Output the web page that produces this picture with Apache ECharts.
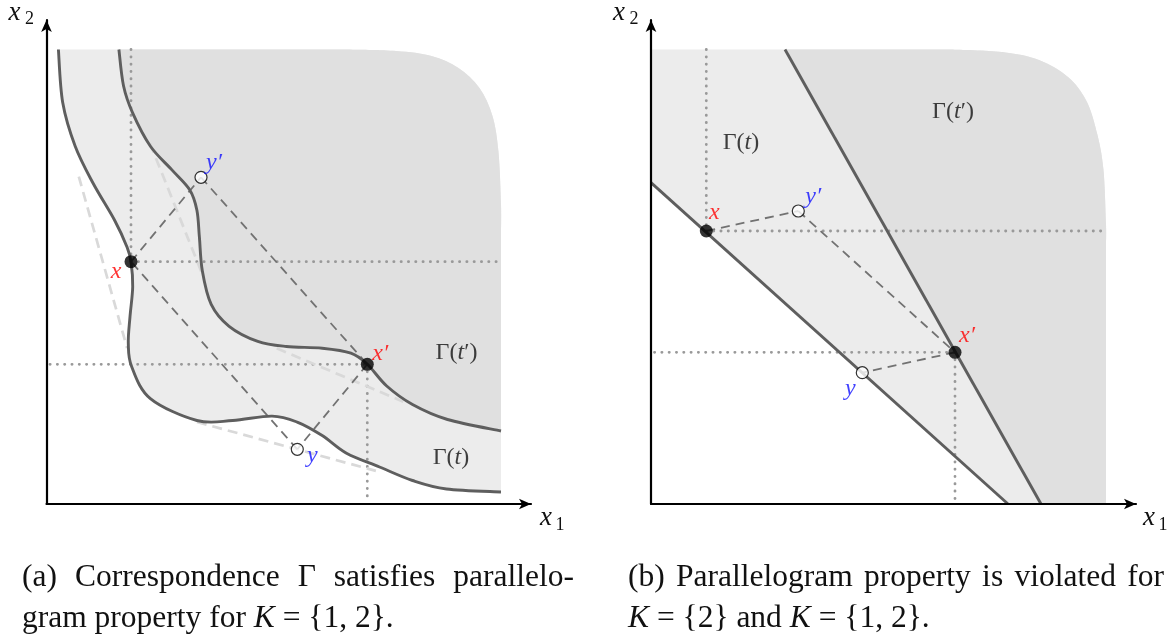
<!DOCTYPE html>
<html><head><meta charset="utf-8">
<script src="https://cdn.jsdelivr.net/npm/echarts@6/dist/echarts.min.js"></script>
<style>html,body{margin:0;padding:0;background:#fff}#c{width:1173px;height:641px}</style>
</head><body><div id="c"></div>
<script>
// ================= DATA (axis units; origin at the axes corner) =================
// ---- panel (a) ----
const axisMaxA = [484.5, 484];
const regionTopA = 454.5, regionRightA = 454.5;
const lowerCurveA = [[11.9,454.5],[16.2,401.4],[28.7,357.7],[46.6,320.7],[68.1,283.7],[80.6,256.8],[84.5,242.3],[86.2,217.3],[83.5,187.3],[81.8,160.7],[85.2,137.3],[103.9,105.4],[150.4,83.5],[186.2,83.5],[225.6,87.9],[250.7,81.9],[275.7,68.4],[300,50.7],[333,37],[366,23.5],[400,15],[454.5,12]];
const upperCurveA = [[72.4,454.5],[77,418.2],[86,391.3],[103.9,357.7],[125.4,334.1],[143.3,314],[150.4,293.8],[152.9,266.8],[155.8,233.2],[164.7,199.6],[182.6,177.7],[211.3,162.6],[239.9,157.5],[275.7,155.8],[304.4,150.8],[320.8,139.7],[340.2,118],[366,99.5],[401,84.5],[454.5,73]];
const cornerA = [[300,454.5],[350,453],[385,448],[412,436],[433,416],[446,388],[452,352],[454.5,300],[454.5,270]];
const ptX_A = [84.5,242.3], ptXp_A = [320.8,139.7], ptY_A = [250.8,54.7], ptYp_A = [154.5,326.7];
const hullA = [[[32.3,327.4],[80.6,155.9]],[[103.5,360.7],[156.8,227.3]],[[230.2,155.7],[356.8,102.3]],[[150.4,82],[329.4,33.1]]];
const gammaPosA = {t:[404.5,46], tp:[410,151]};
// ---- panel (b) ----
const axisMaxB = [485, 484];
const regionTopB = 454.5, regionRightB = 455;
const lowerLineB = [[0,321.3],[357,0]];
const upperLineB = [[134,454.5],[390,0]];
const cornerB = [[300,454.5],[351,452],[388,444],[417,427],[435.5,403],[446.5,369],[452.5,334],[455,280],[455,260]];
const ptX_B = [55.3,273], ptXp_B = [304,151.7], ptY_B = [211.3,131.3], ptYp_B = [147.3,293];
const gammaPosB = {t:[90,361.5], tp:[302,392]};
const dotStart = 3.5;
// ---- captions ----
const capA1 = ['(a)','Correspondence','Γ','satisfies','parallelo-'];
const capB1 = ['(b)','Parallelogram','property','is','violated','for'];

// ================= helpers =================
const SERIF = '"Liberation Serif","Times New Roman",serif';
function segs(px){let d='';for(let i=0;i<px.length-1;i++){const p0=px[i-1]||px[i],p1=px[i],p2=px[i+1],p3=px[i+2]||px[i+1];
 d+=' C'+(p1[0]+(p2[0]-p0[0])/6)+','+(p1[1]+(p2[1]-p0[1])/6)+' '+(p2[0]-(p3[0]-p1[0])/6)+','+(p2[1]-(p3[1]-p1[1])/6)+' '+p2[0]+','+p2[1];}return d;}
const P = p => p[0]+','+p[1];
function custom(grid, z, fn){return {type:'custom',xAxisIndex:grid,yAxisIndex:grid,coordinateSystem:'cartesian2d',z:z,silent:true,data:[[0,0]],renderItem:(params,api)=>({type:'group',children:fn(p=>api.coord(p))})};}
const DOT = {stroke:'#999',lineWidth:2.8,lineDash:[0.2,7.1],lineCap:'round',fill:'none'};
const DASH = {stroke:'#727272',lineWidth:1.8,lineDash:[9,6],fill:'none'};
const HULL = {stroke:'#d9d9d9',lineWidth:2.7,lineDash:[10,6],fill:'none'};
const CURVE = {stroke:'#5e5e5e',lineWidth:2.9,fill:'none',lineJoin:'round'};
const line=(c,a,b,style)=>{const p=c(a),q=c(b);return {type:'line',shape:{x1:p[0],y1:p[1],x2:q[0],y2:q[1]},style:style};};

function axes(idx,max){return [
 {gridIndex:idx,type:'value',min:0,max:max[0],z:10,axisLine:{show:true,symbol:['none','arrow'],symbolSize:[8,12],lineStyle:{color:'#000',width:2.2}},axisTick:{show:false},axisLabel:{show:false},splitLine:{show:false}},
 {gridIndex:idx,type:'value',min:0,max:max[1],z:10,axisLine:{show:true,symbol:['none','arrow'],symbolSize:[8,12],lineStyle:{color:'#000',width:2.2}},axisTick:{show:false},axisLabel:{show:false},splitLine:{show:false}}];}

const RED='#ff0000', BLUE='#1010ff';
function ptLabel(txt,color,off){return {show:true,position:'inside',offset:off,formatter:txt,color:color,fontFamily:SERIF,fontStyle:'italic',fontSize:24};}
function points(grid, pts){return {type:'scatter',xAxisIndex:grid,yAxisIndex:grid,z:6,silent:true,symbol:'circle',
 data:pts.map(o=>({value:o.v,symbolSize:o.filled?13:12,itemStyle:{color:o.filled?'#000':'#fff',borderColor:'#000',borderWidth:o.filled?0:1.2},label:ptLabel(o.t,o.c,o.off)}))};}
const gammaRich={n:{fontFamily:SERIF,fontSize:24,color:'#111'},i:{fontFamily:SERIF,fontStyle:'italic',fontSize:24,color:'#111'}};
function gammaLabels(grid,pos){return {type:'scatter',xAxisIndex:grid,yAxisIndex:grid,z:6,silent:true,symbolSize:0,
 data:[{value:pos.t,label:{show:true,position:'inside',formatter:'{n|Γ(}{i|t}{n|)}',rich:gammaRich}},
       {value:pos.tp,label:{show:true,position:'inside',formatter:'{n|Γ(}{i|t}{n|′)}',rich:gammaRich}}]};}

// ================= series =================
const series = [
 custom(0,1,c=>{const L=lowerCurveA.map(c),U=upperCurveA.map(c),C=cornerA.map(c),Cr=C.slice().reverse();
   return [
    {type:'path',shape:{pathData:'M'+P(L[0])+segs(L)+' L'+P(Cr[0])+segs(Cr)+' Z'},style:{fill:'#ececec'}},
    {type:'path',shape:{pathData:'M'+P(U[0])+segs(U)+' L'+P(Cr[0])+segs(Cr)+' Z'},style:{fill:'#e0e0e0'}}];}),
 custom(0,2,c=>[
   line(c,[ptX_A[0],regionTopA],ptX_A,DOT), line(c,ptX_A,[regionRightA,ptX_A[1]],DOT),
   line(c,[dotStart,ptXp_A[1]],ptXp_A,DOT), line(c,ptXp_A,[ptXp_A[0],dotStart],DOT)]),
 custom(0,3,c=>hullA.map(s=>line(c,s[0],s[1],HULL))),
 custom(0,4,c=>[line(c,ptX_A,ptYp_A,DASH),line(c,ptYp_A,ptXp_A,DASH),line(c,ptXp_A,ptY_A,DASH),line(c,ptY_A,ptX_A,DASH)]),
 custom(0,5,c=>{const L=lowerCurveA.map(c),U=upperCurveA.map(c);return [
   {type:'path',shape:{pathData:'M'+P(L[0])+segs(L)},style:CURVE},
   {type:'path',shape:{pathData:'M'+P(U[0])+segs(U)},style:CURVE}];}),
 points(0,[{v:ptX_A,filled:true,t:'x',c:RED,off:[-15,10]},{v:ptXp_A,filled:true,t:'x′',c:RED,off:[13,-11]},
           {v:ptY_A,filled:false,t:'y',c:BLUE,off:[15,6]},{v:ptYp_A,filled:false,t:'y′',c:BLUE,off:[13,-15]}]),
 gammaLabels(0,gammaPosA),
 custom(1,1,c=>{const C=cornerB.map(c);
   const br=c([regionRightB,0]);
   return [
    {type:'path',shape:{pathData:'M'+P(c(lowerLineB[0]))+' L'+P(c([0,regionTopB]))+' L'+P(C[0])+segs(C)+' L'+P(br)+' L'+P(c(lowerLineB[1]))+' Z'},style:{fill:'#ececec'}},
    {type:'path',shape:{pathData:'M'+P(c(upperLineB[0]))+' L'+P(C[0])+segs(C)+' L'+P(br)+' L'+P(c(upperLineB[1]))+' Z'},style:{fill:'#e0e0e0'}}];}),
 custom(1,2,c=>[
   line(c,[ptX_B[0],regionTopB],ptX_B,DOT), line(c,ptX_B,[regionRightB,ptX_B[1]],DOT),
   line(c,[dotStart,ptXp_B[1]],ptXp_B,DOT), line(c,ptXp_B,[ptXp_B[0],dotStart],DOT)]),
 custom(1,4,c=>[line(c,ptX_B,ptYp_B,DASH),line(c,ptYp_B,ptXp_B,DASH),line(c,ptXp_B,ptY_B,DASH)]),
 custom(1,5,c=>[line(c,lowerLineB[0],lowerLineB[1],CURVE),line(c,upperLineB[0],upperLineB[1],CURVE)]),
 points(1,[{v:ptX_B,filled:true,t:'x',c:RED,off:[8,-18]},{v:ptXp_B,filled:true,t:'x′',c:RED,off:[12,-17]},
           {v:ptY_B,filled:false,t:'y',c:BLUE,off:[-12,16]},{v:ptYp_B,filled:false,t:'y′',c:BLUE,off:[15,-14]}]),
 gammaLabels(1,gammaPosB)
];

// ================= text (axis names, captions) =================
const CAP = 31.5;
const CAPFONT = CAP+'px '+SERIF;
function txt(x,y,text,opt){return {type:'text',x:x,y:y,silent:true,style:Object.assign({text:text,font:CAPFONT,fill:'#111',align:'left',verticalAlign:'middle',textAlign:'left',textVerticalAlign:'middle'},opt||{})};}
const measureCtx = document.createElement('canvas').getContext('2d');
function justify(words,x0,x1,y){
  measureCtx.font = CAPFONT;
  const w = words.map(s=>measureCtx.measureText(s).width);
  const total = w.reduce((a,b)=>a+b,0);
  const gap = (x1-x0-total)/(words.length-1);
  let x = x0; const out=[];
  words.forEach((s,i)=>{out.push(txt(x,y,s)); x += w[i]+gap;});
  return out;
}
const it = () => ({font:'italic 27px '+SERIF, align:'center', textAlign:'center'});
const sub = () => ({font:'18px '+SERIF, align:'center', textAlign:'center'});
const capRich = {i:{fontFamily:SERIF,fontStyle:'italic',fontSize:CAP,color:'#111'},n:{fontFamily:SERIF,fontSize:CAP,color:'#111'}};
const graphic = [
 txt(14.5,13,'x',it()), txt(29.5,19,'2',sub()),
 txt(546,518,'x',it()), txt(560,525,'1',sub()),
 txt(619,13,'x',it()), txt(634,19,'2',sub()),
 txt(1149,518,'x',it()), txt(1163,525,'1',sub()),
 ...justify(capA1,22,574,578),
 txt(22,619,'{n|gram property for }{i|K}{n| = }{1, 2}.',{rich:capRich}),
 ...justify(capB1,628,1164,578),
 txt(628,619,'{i|K}{n| = }{2} and {i|K}{n| = }{1, 2}.',{rich:capRich})
];

const chart = echarts.init(document.getElementById('c'),null,{renderer:'canvas'});
chart.setOption({
 animation:false,
 grid:[{left:46.5,top:20,width:axisMaxA[0],height:axisMaxA[1]},{left:651,top:20,width:axisMaxB[0],height:axisMaxB[1]}],
 xAxis:[axes(0,axisMaxA)[0],axes(1,axisMaxB)[0]],
 yAxis:[axes(0,axisMaxA)[1],axes(1,axisMaxB)[1]],
 series:series,
 graphic:graphic
});
</script></body></html>
